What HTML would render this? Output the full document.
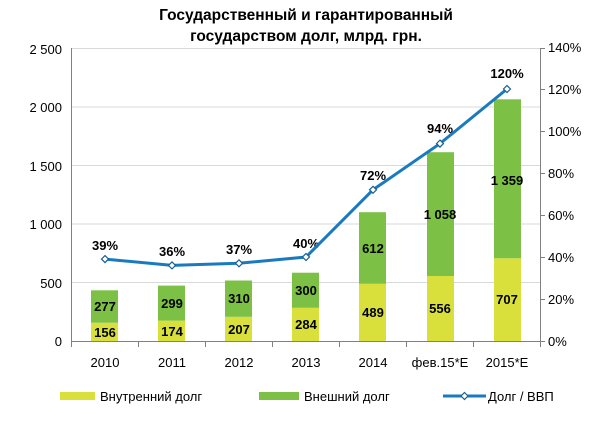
<!DOCTYPE html>
<html><head><meta charset="utf-8"><style>
body{margin:0;background:#fff;}
svg{display:block;font-family:"Liberation Sans","DejaVu Sans",sans-serif;}
</style></head><body>
<svg width="613" height="427" viewBox="0 0 613 427">
<text x="306" y="20" font-size="15.5" font-weight="bold" text-anchor="middle" fill="#000">Государственный и гарантированный</text>
<text x="306" y="41" font-size="15.5" font-weight="bold" text-anchor="middle" fill="#000">государством долг, млрд. грн.</text>
<g stroke="#d9d9d9" stroke-width="1">
<line x1="71" x2="541" y1="282.5" y2="282.5"/>
<line x1="71" x2="541" y1="224" y2="224"/>
<line x1="71" x2="541" y1="165.5" y2="165.5"/>
<line x1="71" x2="541" y1="107" y2="107"/>
<line x1="71" x2="541" y1="48.5" y2="48.5"/>
</g>
<g fill="#d9e03c">
<rect x="91" y="322.7" width="27" height="18.3"/>
<rect x="158" y="320.6" width="27" height="20.4"/>
<rect x="225" y="316.8" width="27" height="24.2"/>
<rect x="292" y="307.8" width="27" height="33.2"/>
<rect x="359" y="283.8" width="27" height="57.2"/>
<rect x="427" y="276" width="27" height="65"/>
<rect x="494" y="258.3" width="27" height="82.7"/>
</g>
<g fill="#7cc146">
<rect x="91" y="290.3" width="27" height="32.4"/>
<rect x="158" y="285.6" width="27" height="35"/>
<rect x="225" y="280.5" width="27" height="36.3"/>
<rect x="292" y="272.7" width="27" height="35.1"/>
<rect x="359" y="212.2" width="27" height="71.6"/>
<rect x="427" y="152.2" width="27" height="123.8"/>
<rect x="494" y="99.3" width="27" height="159"/>
</g>
<g stroke="#808080" stroke-width="1">
<line x1="71" x2="541" y1="341.5" y2="341.5"/>
<line x1="71.5" x2="71.5" y1="48" y2="342"/>
<line x1="540.5" x2="540.5" y1="48" y2="342"/>
<line x1="71.5" x2="71.5" y1="341" y2="347"/>
<line x1="138.5" x2="138.5" y1="341" y2="347"/>
<line x1="205.5" x2="205.5" y1="341" y2="347"/>
<line x1="272.5" x2="272.5" y1="341" y2="347"/>
<line x1="339.5" x2="339.5" y1="341" y2="347"/>
<line x1="406.5" x2="406.5" y1="341" y2="347"/>
<line x1="473.5" x2="473.5" y1="341" y2="347"/>
<line x1="540.5" x2="540.5" y1="341" y2="347"/>
<line x1="540" x2="545" y1="341.5" y2="341.5"/>
<line x1="540" x2="545" y1="299.5" y2="299.5"/>
<line x1="540" x2="545" y1="257.5" y2="257.5"/>
<line x1="540" x2="545" y1="215.5" y2="215.5"/>
<line x1="540" x2="545" y1="173.5" y2="173.5"/>
<line x1="540" x2="545" y1="131.5" y2="131.5"/>
<line x1="540" x2="545" y1="89.5" y2="89.5"/>
<line x1="540" x2="545" y1="48.5" y2="48.5"/>
</g>
<g font-size="13" fill="#000" text-anchor="end">
<text x="62" y="346">0</text><text x="62" y="288">500</text><text x="62" y="229">1 000</text>
<text x="62" y="171">1 500</text><text x="62" y="112">2 000</text><text x="62" y="54">2 500</text>
</g>
<g font-size="13" fill="#000" text-anchor="start">
<text x="548" y="346">0%</text><text x="548" y="304">20%</text><text x="548" y="262">40%</text>
<text x="548" y="220">60%</text><text x="548" y="178">80%</text><text x="548" y="136">100%</text>
<text x="548" y="94">120%</text><text x="548" y="52">140%</text>
</g>
<g font-size="13" fill="#000" text-anchor="middle">
<text x="105" y="367">2010</text><text x="172" y="367">2011</text><text x="239" y="367">2012</text>
<text x="306" y="367">2013</text><text x="373" y="367">2014</text><text x="440" y="367">фев.15*E</text><text x="507" y="367">2015*E</text>
</g>
<g font-size="13" font-weight="bold" fill="#000" text-anchor="middle">
<text x="105" y="337">156</text><text x="172" y="336">174</text><text x="239" y="334">207</text>
<text x="306" y="329">284</text><text x="373" y="317">489</text><text x="440" y="313">556</text><text x="507" y="304">707</text>
<text x="105" y="311">277</text><text x="172" y="308">299</text><text x="239" y="303">310</text>
<text x="306" y="295">300</text><text x="373" y="253">612</text><text x="440" y="219">1 058</text><text x="507" y="185">1 359</text>
<text x="105" y="250">39%</text><text x="172" y="256">36%</text><text x="239" y="254">37%</text>
<text x="306" y="248">40%</text><text x="373" y="180">72%</text><text x="440" y="133">94%</text><text x="507" y="78">120%</text>
</g>
<polyline fill="none" stroke="#1a7abf" stroke-width="3" points="105,259.1 172,265.4 239,263.3 306,257 373,189.8 440,143.6 507,89"/>
<g fill="#fff" stroke="#1a5f8f" stroke-width="1.2">
<path d="M105 255.6l3.5 3.5-3.5 3.5-3.5-3.5z"/>
<path d="M172 261.9l3.5 3.5-3.5 3.5-3.5-3.5z"/>
<path d="M239 259.8l3.5 3.5-3.5 3.5-3.5-3.5z"/>
<path d="M306 253.5l3.5 3.5-3.5 3.5-3.5-3.5z"/>
<path d="M373 186.3l3.5 3.5-3.5 3.5-3.5-3.5z"/>
<path d="M440 140.1l3.5 3.5-3.5 3.5-3.5-3.5z"/>
<path d="M507 85.5l3.5 3.5-3.5 3.5-3.5-3.5z"/>
</g>
<rect x="60" y="392" width="35" height="8" fill="#d9e03c"/>
<text x="100" y="401" font-size="13" fill="#000">Внутренний долг</text>
<rect x="259" y="392" width="40" height="8" fill="#7cc146"/>
<text x="304" y="401" font-size="13" fill="#000">Внешний долг</text>
<line x1="443" x2="486" y1="396" y2="396" stroke="#1a7abf" stroke-width="3"/>
<path d="M464.5 392.5l3.5 3.5-3.5 3.5-3.5-3.5z" fill="#fff" stroke="#1a5f8f" stroke-width="1.2"/>
<text x="488" y="401" font-size="13" fill="#000">Долг / ВВП</text>
</svg>
</body></html>
